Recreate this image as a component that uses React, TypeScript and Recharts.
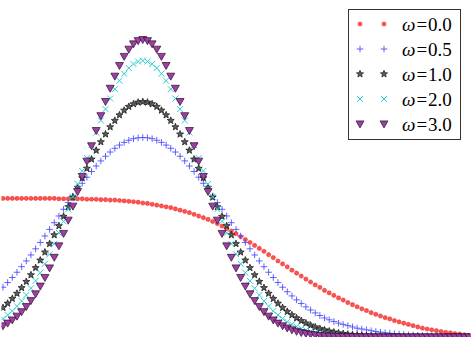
import React from 'react';
import { ScatterChart, Scatter, XAxis, YAxis } from 'recharts';

// x positions (tick units)
const xs = [0,0.05,0.1,0.15,0.2,0.25,0.3,0.35,0.4,0.45,0.5,0.55,0.6,0.65,0.7,0.75,0.8,0.85,0.9,0.95,1,1.05,1.1,1.15,1.2,1.25,1.3,1.35,1.4,1.45,1.5,1.55,1.6,1.65,1.7,1.75,1.8,1.85,1.9,1.95,2,2.05,2.1,2.15,2.2,2.25,2.3,2.35,2.4,2.45,2.5,2.55,2.6,2.65,2.7,2.75,2.8,2.85,2.9,2.95,3,3.05,3.1,3.15,3.2,3.25,3.3,3.35,3.4,3.45,3.5,3.55,3.6,3.65,3.7,3.75,3.8,3.85,3.9,3.95,4,4.05,4.1,4.15,4.2,4.25,4.3,4.35,4.4,4.45,4.5,4.55,4.6,4.65,4.7,4.75,4.8,4.85,4.9,4.95,5];

const w00 = [3.30,3.30,3.30,3.30,3.30,3.30,3.30,3.30,3.30,3.30,3.30,3.30,3.29,3.29,3.29,3.29,
3.29,3.29,3.28,3.28,3.28,
3.27,3.27,3.26,3.26,3.25,
3.24,3.23,3.22,3.21,3.19,
3.18,3.16,3.14,3.12,3.10,
3.08,3.05,3.02,2.99,2.96,
2.92,2.88,2.84,2.80,2.75,
2.70,2.64,2.58,2.52,2.46,
2.39,2.32,2.25,2.18,2.11,
2.04,1.96,1.89,1.81,1.74,
1.67,1.59,1.52,1.45,1.38,
1.31,1.24,1.18,1.11,1.05,
0.99,0.93,0.88,0.82,0.77,
0.72,0.67,0.63,0.58,0.54,
0.50,0.46,0.43,0.39,0.36,
0.33,0.30,0.27,0.24,0.21,
0.19,0.17,0.15,0.13,0.11,
0.10,0.08,0.07,0.05,0.04];

const w05 = [1.185,1.297,1.417,1.542,1.674,1.811,1.953,2.100,2.251,2.405,2.562,2.721,2.881,3.041,3.200,3.357,3.510,3.660,3.804,3.941,4.071,4.192,4.303,4.404,4.493,4.570,4.634,4.684,4.721,4.743,
4.75,
4.743,4.721,4.684,4.634,4.570,4.493,4.404,4.303,4.192,4.071,3.941,3.804,3.660,3.510,3.357,3.200,3.041,2.881,2.721,2.562,2.405,2.251,2.100,1.953,1.811,1.674,1.542,1.417,1.297,1.185,1.078,0.978,0.885,0.798,0.717,0.643,0.574,0.512,0.454,0.41,0.37,0.33,0.30,0.27,0.24,0.21,0.19,0.17,0.15,0.13,0.115,0.10,0.09,0.08,0.07,0.06,0.05,0.045,0.04,0.035,0.03,0.026,0.022,0.019,0.016,0.013,0.011,0.008,0.007,0.006];

const w10 = [0.698,0.800,0.913,1.036,1.172,1.318,1.477,1.647,1.827,2.018,2.219,2.429,2.646,2.869,3.097,3.327,3.558,3.787,4.013,4.232,4.443,4.643,4.829,5.000,5.152,5.285,5.396,5.485,5.548,5.587,
5.6,
5.587,5.548,5.485,5.396,5.285,5.152,5.000,4.829,4.643,4.443,4.232,4.013,3.787,3.558,3.327,3.097,2.869,2.646,2.429,2.219,2.018,1.827,1.647,1.477,1.318,1.172,1.036,0.913,0.800,0.698,0.606,0.524,0.451,0.386,0.329,0.279,0.236,0.198,0.166,0.138,0.114,0.094,0.078,0.063,0.052,0.042,0.034,0.027,0.022,0.017,0.014,0.011,0.008,0.007,0.005,0.004,0.003,0.002,0.002,0.001,0.001,0.001,
0,0,0,0,0,0,0,0];

const w20 = [0.437,0.522,0.619,0.731,0.858,1.000,1.159,1.336,1.530,1.742,1.971,2.217,2.478,2.754,3.042,3.340,3.645,3.954,4.263,4.569,4.868,5.155,5.426,5.677,5.903,6.102,6.270,6.404,6.501,6.560,
6.58,
6.560,6.501,6.404,6.270,6.102,5.903,5.677,5.426,5.155,4.868,4.569,4.263,3.954,3.645,3.340,3.042,2.754,2.478,2.217,1.971,1.742,1.530,1.336,1.159,1.000,0.858,0.731,0.619,0.522,0.437,0.363,0.301,0.247,0.202,0.164,0.132,0.106,0.085,0.067,0.053,0.042,0.032,0.025,0.019,0.015,0.011,0.008,0.006,0.005,0.004,0.003,0.002,0.002,0.001,0.001,
0,0,0,0,0,0,0,0,0,0,0,0,0,0,0];

const w30 = [0.265,0.328,0.404,0.494,0.600,0.722,0.864,1.026,1.209,1.415,1.643,1.895,2.168,2.464,2.780,3.113,3.461,3.820,4.185,4.551,4.914,5.267,5.605,5.920,6.208,6.462,6.679,6.851,6.977,7.054,
7.08,
7.054,6.977,6.851,6.679,6.462,6.208,5.920,5.605,5.267,4.914,4.551,4.185,3.820,3.461,3.113,2.780,2.464,2.168,1.895,1.643,1.415,1.209,1.026,0.864,0.722,0.600,0.494,0.404,0.328,0.265,0.212,0.168,0.133,0.104,0.081,0.062,0.048,0.036,0.027,0.021,0.015,0.011,0.008,0.006,0.004,0.003,0.002,0.002,0.001,0.001,
0,0,0,0,0,0,0,0,0,0,0,0,0,0,0,0,0,0,0,0];

const xTicks = [1, 2, 3, 4];
const yTicks = [1, 2, 3, 4, 5, 6, 7];
const legendLabels = ['0.0', '0.5', '1.0', '2.0', '3.0'];

const W = 474;
const H = 341;
const M = { top: 1, right: 3.5, bottom: 4, left: 1.5 };
const PL = M.left, PR = W - M.right, PT = M.top, PB = H - M.bottom;
const TL = 4.5;
const SPINE = '#1a1a1a';

const dotShape = (cx: number, cy: number) => (
  <circle cx={cx} cy={cy} r={2.1} fill="#ff4040" stroke="#e61e1e" strokeWidth={0.5} fillOpacity={0.9} />
);
const plusShape = (cx: number, cy: number) => (
  <path d={`M${cx - 3.3},${cy}H${cx + 3.3}M${cx},${cy - 3.3}V${cy + 3.3}`} stroke="#4646ff" strokeWidth={1} strokeOpacity={0.85} fill="none" />
);
const starPath = (cx: number, cy: number, R: number, r: number) => {
  const pts: string[] = [];
  for (let k = 0; k < 10; k++) {
    const a = -Math.PI / 2 + (k * Math.PI) / 5;
    const rad = k % 2 === 0 ? R : r;
    pts.push(`${(cx + rad * Math.cos(a)).toFixed(2)},${(cy + rad * Math.sin(a)).toFixed(2)}`);
  }
  return 'M' + pts.join('L') + 'Z';
};
const starShape = (cx: number, cy: number) => (
  <path d={starPath(cx, cy, 3.7, 1.6)} fill="#5c5c5c" stroke="#111" strokeWidth={0.7} />
);
const xShape = (cx: number, cy: number) => (
  <path d={`M${cx - 3},${cy - 3}L${cx + 3},${cy + 3}M${cx - 3},${cy + 3}L${cx + 3},${cy - 3}`} stroke="#2ccfcf" strokeWidth={1} fill="none" />
);
const triShape = (cx: number, cy: number) => (
  <path d={`M${cx - 4},${cy - 3.1}L${cx + 4},${cy - 3.1}L${cx},${cy + 3.9}Z`} fill="#a03ea6" stroke="#2b0f2d" strokeWidth={0.7} />
);

const shapes = [dotShape, plusShape, starShape, xShape, triShape];
const seriesValues = [w00, w05, w10, w20, w30];

const BottomTick = (p: any) => <line x1={p.x} x2={p.x} y1={PB} y2={PB - TL} stroke={SPINE} strokeWidth={1.2} />;
const TopTick = (p: any) => <line x1={p.x} x2={p.x} y1={PT} y2={PT + TL} stroke={SPINE} strokeWidth={1.2} />;
const LeftTick = (p: any) => <line y1={p.y} y2={p.y} x1={PL} x2={PL + TL} stroke={SPINE} strokeWidth={1.2} />;
const RightTick = (p: any) => <line y1={p.y} y2={p.y} x1={PR} x2={PR - TL} stroke={SPINE} strokeWidth={1.2} />;

const LegendBox = () => {
  const left = 348, top = 9, bw = 113, bh = 131;
  return (
    <svg width={bw} height={bh} style={{ position: 'absolute', left, top }}>
      <rect x={0.5} y={0.5} width={bw - 1} height={bh - 1} fill="#fff" stroke="#333" strokeWidth={1} />
      {legendLabels.map((lab, i) => {
        const cy = 15 + i * 25;
        const sh = shapes[i];
        return (
          <g key={lab}>
            {sh(12, cy)}
            {sh(36, cy)}
            <text y={cy + 6.5} fontFamily="'Liberation Serif', serif" fontSize={19} fill="#000">
              <tspan x={54} fontStyle="italic">ω</tspan>
              <tspan x={68.5}>=</tspan>
              <tspan x={80}>{lab}</tspan>
            </text>
          </g>
        );
      })}
    </svg>
  );
};

export default function App() {
  return (
    <div style={{ position: 'absolute', left: 0, top: 0, width: W, height: H, background: '#fff' }}>
      <ScatterChart width={W} height={H} margin={M}>
        <XAxis xAxisId="b" type="number" dataKey="x" domain={[-0.016, 5.016]} ticks={xTicks} orientation="bottom" height={0}
          axisLine={{ stroke: SPINE, strokeWidth: 1.5 }} tickLine={false} tick={BottomTick} allowDataOverflow />
        <XAxis xAxisId="t" type="number" dataKey="x" domain={[-0.016, 5.016]} ticks={xTicks} orientation="top" height={0}
          axisLine={{ stroke: SPINE, strokeWidth: 1.5 }} tickLine={false} tick={TopTick} allowDataOverflow />
        <YAxis yAxisId="l" type="number" dataKey="y" domain={[0, 8]} ticks={yTicks} orientation="left" width={0}
          axisLine={{ stroke: SPINE, strokeWidth: 1.5 }} tickLine={false} tick={LeftTick} allowDataOverflow />
        <YAxis yAxisId="r" type="number" dataKey="y" domain={[0, 8]} ticks={yTicks} orientation="right" width={0}
          axisLine={{ stroke: SPINE, strokeWidth: 1.5 }} tickLine={false} tick={RightTick} allowDataOverflow />
        <Scatter xAxisId="t" yAxisId="r" data={[]} isAnimationActive={false} />
        {seriesValues.map((vals, si) => (
          <Scatter
            key={si}
            xAxisId="b"
            yAxisId="l"
            name={'ω=' + legendLabels[si]}
            data={xs.map((x, i) => ({ x, y: vals[i] }))}
            isAnimationActive={false}
            shape={(p: any) => shapes[si](p.cx, p.cy)}
          />
        ))}
      </ScatterChart>
      <LegendBox />
    </div>
  );
}
